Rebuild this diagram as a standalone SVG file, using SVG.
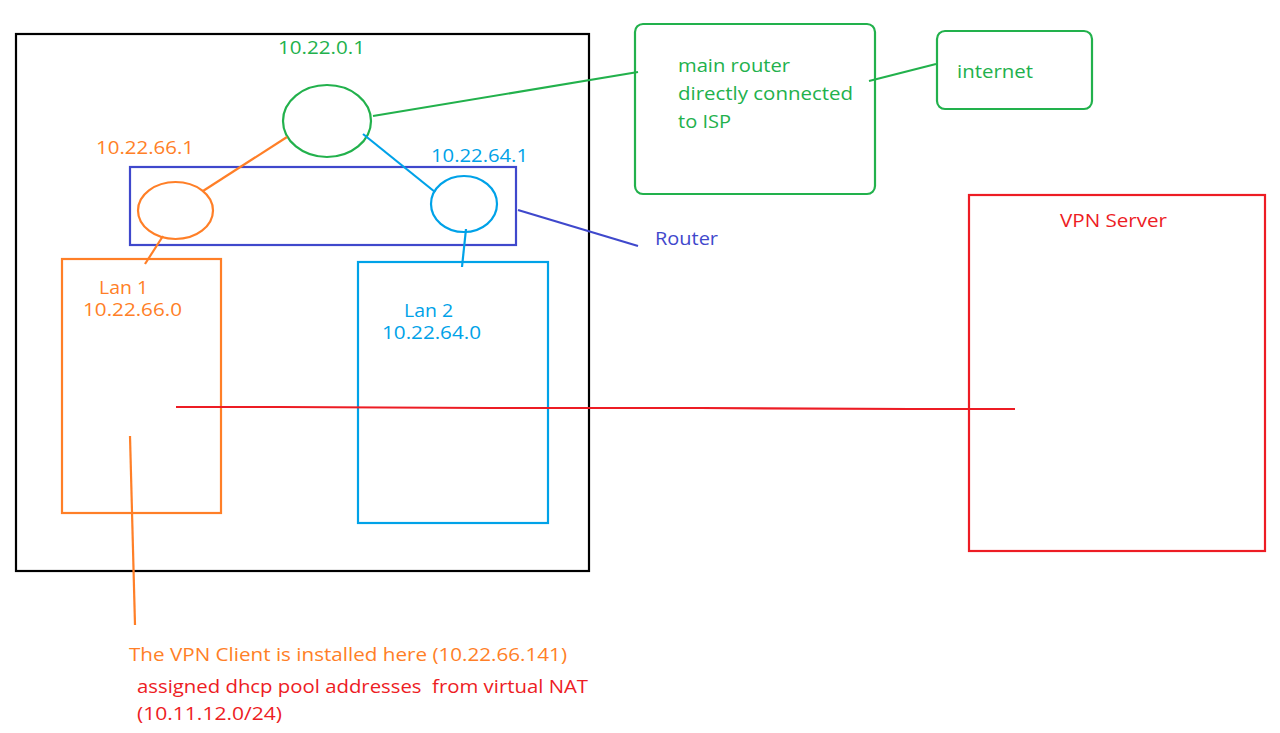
<svg xmlns="http://www.w3.org/2000/svg" width="1280" height="733" viewBox="0 0 1280 733">
<style>
text{font-family:"Open Sans","Liberation Sans",sans-serif;font-size:18px}
.s{fill:none;stroke-width:2.2}
.g{stroke:#22b14c}.gt{fill:#22b14c}
.o{stroke:#ff7f27}.ot{fill:#ff7f27}
.b{stroke:#00a2e8}.bt{fill:#00a2e8}
.i{stroke:#3f48cc}.it{fill:#3f48cc}
.r{stroke:#ed1c24}.rt{fill:#ed1c24}
.k{stroke:#000}
</style>
<rect width="1280" height="733" fill="#fff"/>
<g id="site"><rect class="s k" x="16" y="34" width="573" height="537"/></g>
<g id="main-router-node">
<ellipse class="s g" cx="327" cy="121" rx="44" ry="36"/>
<text class="gt" x="278" y="54" textLength="87" lengthAdjust="spacingAndGlyphs">10.22.0.1</text>
</g>
<g id="router">
<rect class="s i" x="130" y="167" width="386" height="78"/>
<text class="it" x="655" y="245" textLength="63" lengthAdjust="spacingAndGlyphs">Router</text>
</g>
<g id="lan1-gw">
<ellipse class="s o" cx="175.5" cy="210.5" rx="37.5" ry="28.5"/>
<text class="ot" x="96" y="154" textLength="98" lengthAdjust="spacingAndGlyphs">10.22.66.1</text>
</g>
<g id="lan2-gw">
<ellipse class="s b" cx="464" cy="204" rx="33" ry="28"/>
<text class="bt" x="431" y="162" textLength="97" lengthAdjust="spacingAndGlyphs">10.22.64.1</text>
</g>
<g id="lan1">
<rect class="s o" x="62" y="259" width="159" height="254"/>
<text class="ot" x="99" y="294" textLength="49" lengthAdjust="spacingAndGlyphs">Lan 1</text>
<text class="ot" x="83" y="316" textLength="99" lengthAdjust="spacingAndGlyphs">10.22.66.0</text>
</g>
<g id="lan2">
<rect class="s b" x="358" y="262" width="190" height="261"/>
<text class="bt" x="404" y="317" textLength="49" lengthAdjust="spacingAndGlyphs">Lan 2</text>
<text class="bt" x="382" y="339" textLength="99" lengthAdjust="spacingAndGlyphs">10.22.64.0</text>
</g>
<g id="isp-router">
<rect class="s g" x="635" y="24" width="240" height="170" rx="8"/>
<text class="gt" x="678" y="72" textLength="112" lengthAdjust="spacingAndGlyphs">main router</text>
<text class="gt" x="678" y="100" textLength="175" lengthAdjust="spacingAndGlyphs">directly connected</text>
<text class="gt" x="678" y="128" textLength="53" lengthAdjust="spacingAndGlyphs">to ISP</text>
</g>
<g id="internet">
<rect class="s g" x="937" y="31" width="155" height="78" rx="8"/>
<text class="gt" x="957" y="78" textLength="76" lengthAdjust="spacingAndGlyphs">internet</text>
</g>
<g id="vpn-server">
<rect class="s r" x="969" y="195" width="296" height="356"/>
<text class="rt" x="1060" y="227" textLength="107" lengthAdjust="spacingAndGlyphs">VPN Server</text>
</g>
<g id="vpn-client-note">
<text class="ot" x="129" y="661" textLength="438" lengthAdjust="spacingAndGlyphs">The VPN Client is installed here (10.22.66.141)</text>
<text class="rt" x="137" y="693" textLength="451" lengthAdjust="spacingAndGlyphs" style="white-space:pre">assigned dhcp pool addresses  from virtual NAT</text>
<text class="rt" x="137" y="720" textLength="145" lengthAdjust="spacingAndGlyphs">(10.11.12.0/24)</text>
</g>
<g id="connectors">
<line class="s g" x1="373" y1="116" x2="638" y2="72"/>
<line class="s g" x1="869" y1="81" x2="936" y2="64"/>
<line class="s o" x1="203" y1="191" x2="287" y2="137"/>
<line class="s b" x1="363" y1="134" x2="435" y2="192"/>
<line class="s i" x1="518" y1="210" x2="638" y2="246"/>
<line class="s o" x1="163" y1="236" x2="145" y2="264"/>
<line class="s b" x1="466" y1="229" x2="462" y2="267"/>
<polyline class="s r" points="176,407 280,407 490,408 700,408 910,409 1015,409"/>
<line class="s o" x1="130" y1="436" x2="135" y2="625"/>
</g>
</svg>
